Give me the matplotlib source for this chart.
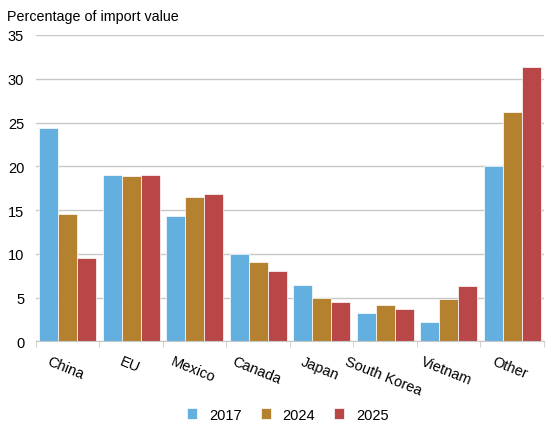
import numpy as np
import matplotlib.pyplot as plt
from matplotlib.transforms import ScaledTranslation

plt.rcParams['font.family'] = ['Liberation Sans', 'DejaVu Sans']

countries = ['China', 'EU', 'Mexico', 'Canada', 'Japan', 'South Korea', 'Vietnam', 'Other']
share_2017 = [24.35, 19.0, 14.3, 10.0, 6.4, 3.2, 2.2, 20.0]
share_2024 = [14.55, 18.95, 16.55, 9.1, 5.0, 4.2, 4.8, 26.2]
share_2025 = [9.5, 19.05, 16.8, 8.1, 4.5, 3.7, 6.3, 31.4]
years = ['2017', '2024', '2025']
colors = ['#62AFE0', '#B4812E', '#BA4748']

fig = plt.figure(figsize=(5.57, 4.27), dpi=100)
ax = fig.add_axes([0.0646, 0.198, 0.912, 0.7177])

x = np.arange(len(countries))
width = 0.3
for i, (vals, lab, c) in enumerate(zip([share_2017, share_2024, share_2025], years, colors)):
    ax.bar(x + (i - 1) * width, vals, width, color=c, label=lab,
           edgecolor='white', linewidth=0.5, zorder=3)

ax.set_xlim(-0.5, len(countries) - 0.5)
ax.set_ylim(0, 35)
ax.set_yticks(range(0, 36, 5))
ax.grid(axis='y', color='#C8C8C8', linewidth=1, zorder=0)
ax.tick_params(axis='y', length=0, labelsize=10.5, pad=8.5)

for s in ['top', 'right', 'left']:
    ax.spines[s].set_visible(False)
ax.spines['bottom'].set_color('#C8C8C8')
ax.spines['bottom'].set_zorder(4)

ax.set_xticks(x)
ax.set_xticklabels(countries, rotation=-22, ha='center', fontsize=10.5)
ax.set_xticks(np.arange(-0.5, len(countries), 1), minor=True)
ax.tick_params(axis='x', which='major', length=0, pad=9)
ax.tick_params(axis='x', which='minor', length=4.5, color='#C8C8C8', direction='out')
offset = ScaledTranslation(-2 / 100, 0, fig.dpi_scale_trans)
for t in ax.get_xticklabels():
    t.set_transform(t.get_transform() + offset)

fig.text(0.013, 0.960, 'Percentage of import value', fontsize=10.3, va='center', ha='left')

fig.legend(loc='center', bbox_to_anchor=(0.517, 0.026), ncol=3, frameon=False,
           fontsize=10.5, handlelength=0.7, handleheight=0.8, columnspacing=1.3,
           handletextpad=0.8)

fig.savefig('out.png', dpi=100)
